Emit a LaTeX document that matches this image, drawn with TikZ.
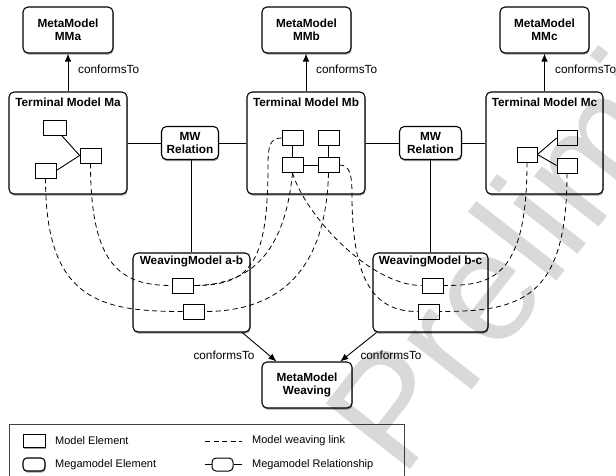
\documentclass[tikz,border=0pt]{standalone}
\usepackage{fontspec}
\setmainfont{Liberation Sans}
\usetikzlibrary{arrows.meta,shadows,calc}
\begin{document}
\begin{tikzpicture}[x=1pt,y=-1pt,
  shad/.style={drop shadow={shadow xshift=0.6pt, shadow yshift=-1.6pt, fill=black!75, opacity=0.5}},
  mega/.style={draw=black, line width=1.1pt, rounded corners=5pt, fill=white, shad},
  titlefont/.style={font=\fontsize{11.8}{13.5}\selectfont\bfseries},
  mm/.style={mega, minimum width=90pt, minimum height=46pt, align=center, titlefont, inner sep=0pt},
  tm/.style={mega, minimum width=118pt, minimum height=102pt},
  wm/.style={mega, minimum width=117pt, minimum height=79pt},
  mw/.style={mega, minimum width=57pt, minimum height=33pt, align=center, titlefont, inner sep=0pt},
  elem/.style={draw, line width=0.8pt, fill=white, minimum width=21pt, minimum height=15pt, inner sep=0pt},
  weave/.style={dash pattern=on 5pt off 3.5pt, line width=0.8pt},
  rel/.style={line width=0.9pt},
  conf/.style={line width=0.9pt, -{Latex[length=8pt,width=6.5pt]}},
  lbl/.style={font=\fontsize{11.8}{13}\selectfont, inner sep=0pt},
  lgtext/.style={font=\fontsize{11}{12}\selectfont, inner sep=0pt, anchor=west}
]
\fill[white] (0,0) rectangle (616,475);
\useasboundingbox (0,0) rectangle (616,475);

% meta models
\node[mm] (MMa) at (68,30) {MetaModel\\MMa};
\node[mm, minimum width=89pt] (MMb) at (306.5,30) {MetaModel\\MMb};
\node[mm, minimum width=89pt] (MMc) at (544.5,30) {MetaModel\\MMc};

% terminal models
\node[tm] (TMa) at (68,143) {};
\node[titlefont] (TMaT) at (68,102) {Terminal Model Ma};
\node[tm] (TMb) at (306,143) {};
\node[titlefont] (TMbT) at (306,102) {Terminal Model Mb};
\node[tm, minimum width=117pt] (TMc) at (544.5,143) {};
\node[titlefont] (TMcT) at (544.5,102) {Terminal Model Mc};

% MW relations
\node[mw] (MWab) at (190,143) {MW\\Relation};
\node[mw, minimum width=62pt] (MWbc) at (430.5,143) {MW\\Relation};

% weaving models
\node[wm] (WMab) at (191.5,292.5) {};
\node[titlefont] (WMabT) at (191.5,261.5) {WeavingModel a-b};
\node[wm, minimum width=115pt] (WMbc) at (430.5,292.5) {};
\node[titlefont] (WMbcT) at (430.5,261.5) {WeavingModel b-c};

\node[mm] (MMW) at (307,385) {MetaModel\\Weaving};

% conformsTo arrows
\draw[conf] (TMa.north) -- (MMa.south);
\node[lbl, anchor=west] (cTa) at (78,69) {conformsTo};
\draw[conf] (TMb.north) -- (MMb.south -| TMb.north);
\node[lbl, anchor=west] (cTb) at (316,69) {conformsTo};
\draw[conf] (TMc.north) -- (MMc.south);
\node[lbl, anchor=west] (cTc) at (555,69) {conformsTo};
\draw[conf] ($(WMab.south)!0.86!(WMab.south east)$) -- ($(MMW.north west)!0.33!(MMW.north)$);
\node[lbl] (cTab) at (224,355) {conformsTo};
\draw[conf] ($(WMbc.south west)!0.07!(WMbc.south)$) -- ($(MMW.north)!0.73!(MMW.north east)$);
\node[lbl] (cTbc) at (391,355) {conformsTo};

% megamodel relationships
\draw[rel] (TMa.east) -- (MWab.west);
\draw[rel] (MWab.east) -- (TMb.west);
\draw[rel] (TMb.east) -- (MWbc.west);
\draw[rel] (MWbc.east) -- (TMc.west);
\draw[rel] (WMab.north |- MWab.south) -- (WMab.north);
\draw[rel] (MWbc.south) -- (WMbc.north);

% model elements Ma
\node[elem, minimum width=23pt] (a1) at (54.5,127.5) {};
\node[elem] (a2) at (90.5,155.5) {};
\node[elem] (a3) at (45.5,170.5) {};
\draw[rel] (a1) -- (a2.west);
\draw[rel] (a3.east) -- (a2.west);

% model elements Mb
\node[elem] (bA) at (292.5,138) {};
\node[elem] (bB) at (328.5,138) {};
\node[elem] (bC) at (292.5,165) {};
\node[elem] (bD) at (328.5,165) {};
\draw[rel] (bA.south) -- (bC.north);
\draw[rel] (bB.south) -- (bD.north);
\draw[rel] (bC.east) -- (bD.west);

% model elements Mc
\node[elem, minimum width=20pt] (c1) at (527,154.5) {};
\node[elem, minimum width=20pt] (c2) at (567,138) {};
\node[elem, minimum width=20pt] (c3) at (567,165.5) {};
\draw[rel] (c1.east) -- (c2.west);
\draw[rel] (c1.east) -- (c3.west);

% weaving elements
\node[elem] (w1) at (182.5,285.5) {};
\node[elem] (w2) at (193.5,311.5) {};
\node[elem] (v1) at (432.5,285.5) {};
\node[elem] (v2) at (428.5,311.5) {};

% weaving links
\draw[weave] (a3.south) .. controls (45.5,300) and (100,311.5) .. (w2.west);
\draw[weave] (a2.south) .. controls (90.5,265) and (120,285.5) .. (w1.west);
\draw[weave] (bA.west) .. controls (270,138) and (268,146) .. (268,165) .. controls (268,265) and (250,285.5) .. (w1.east);
\draw[weave] (bC.south) .. controls (286,240) and (260,285.5) .. (w1.east);
\draw[weave] (bD.south) .. controls (326,270) and (280,311.5) .. (w2.east);
\draw[weave] (bC.south) .. controls (305,215) and (370,285.5) .. (v1.west);
\draw[weave] (bD.east) .. controls (350,165) and (352,175) .. (352,195) .. controls (352,290) and (380,311.5) .. (v2.west);
\draw[weave] (c1.south) .. controls (527,280) and (490,285.5) .. (v1.east);
\draw[weave] (c3.south) .. controls (567,300) and (520,311.5) .. (v2.east);

% legend
\node[draw=black!75, line width=0.7pt, minimum width=395pt, minimum height=70pt, anchor=north west, inner sep=0pt] (legend) at (9,424) {};
\node[elem, line width=1pt, minimum width=22pt, minimum height=13pt, shad] (lgE) at (34,440.5) {};
\node[lgtext] (lgEt) at (55,441) {Model Element};
\node[mega, minimum width=22pt, minimum height=13pt, rounded corners=4pt] (lgM) at (34,464.5) {};
\node[lgtext] (lgMt) at (55,465) {Megamodel Element};
\coordinate (lgDl) at (205,441);
\coordinate (lgDr) at (242,441);
\draw[weave] (lgDl) -- (lgDr);
\node[lgtext] (lgDt) at (252,441) {Model weaving link};
\node[draw, line width=1pt, rounded corners=4pt, minimum width=21pt, minimum height=13pt, inner sep=0pt] (lgR) at (222.5,464.5) {};
\coordinate (lgRl) at (205,464.5);
\coordinate (lgRr) at (242,464.5);
\draw[rel] (lgRl) -- (lgR.west);
\draw[rel] (lgR.east) -- (lgRr);
\node[lgtext] (lgRt) at (252,465) {Megamodel Relationship};

% watermark
\node[font=\fontsize{155}{155}\selectfont, text=black, opacity=0.15, rotate=52, anchor=base west, inner sep=0pt] (wmark) at (402,480) {Preliminary};
\end{tikzpicture}
\end{document}
